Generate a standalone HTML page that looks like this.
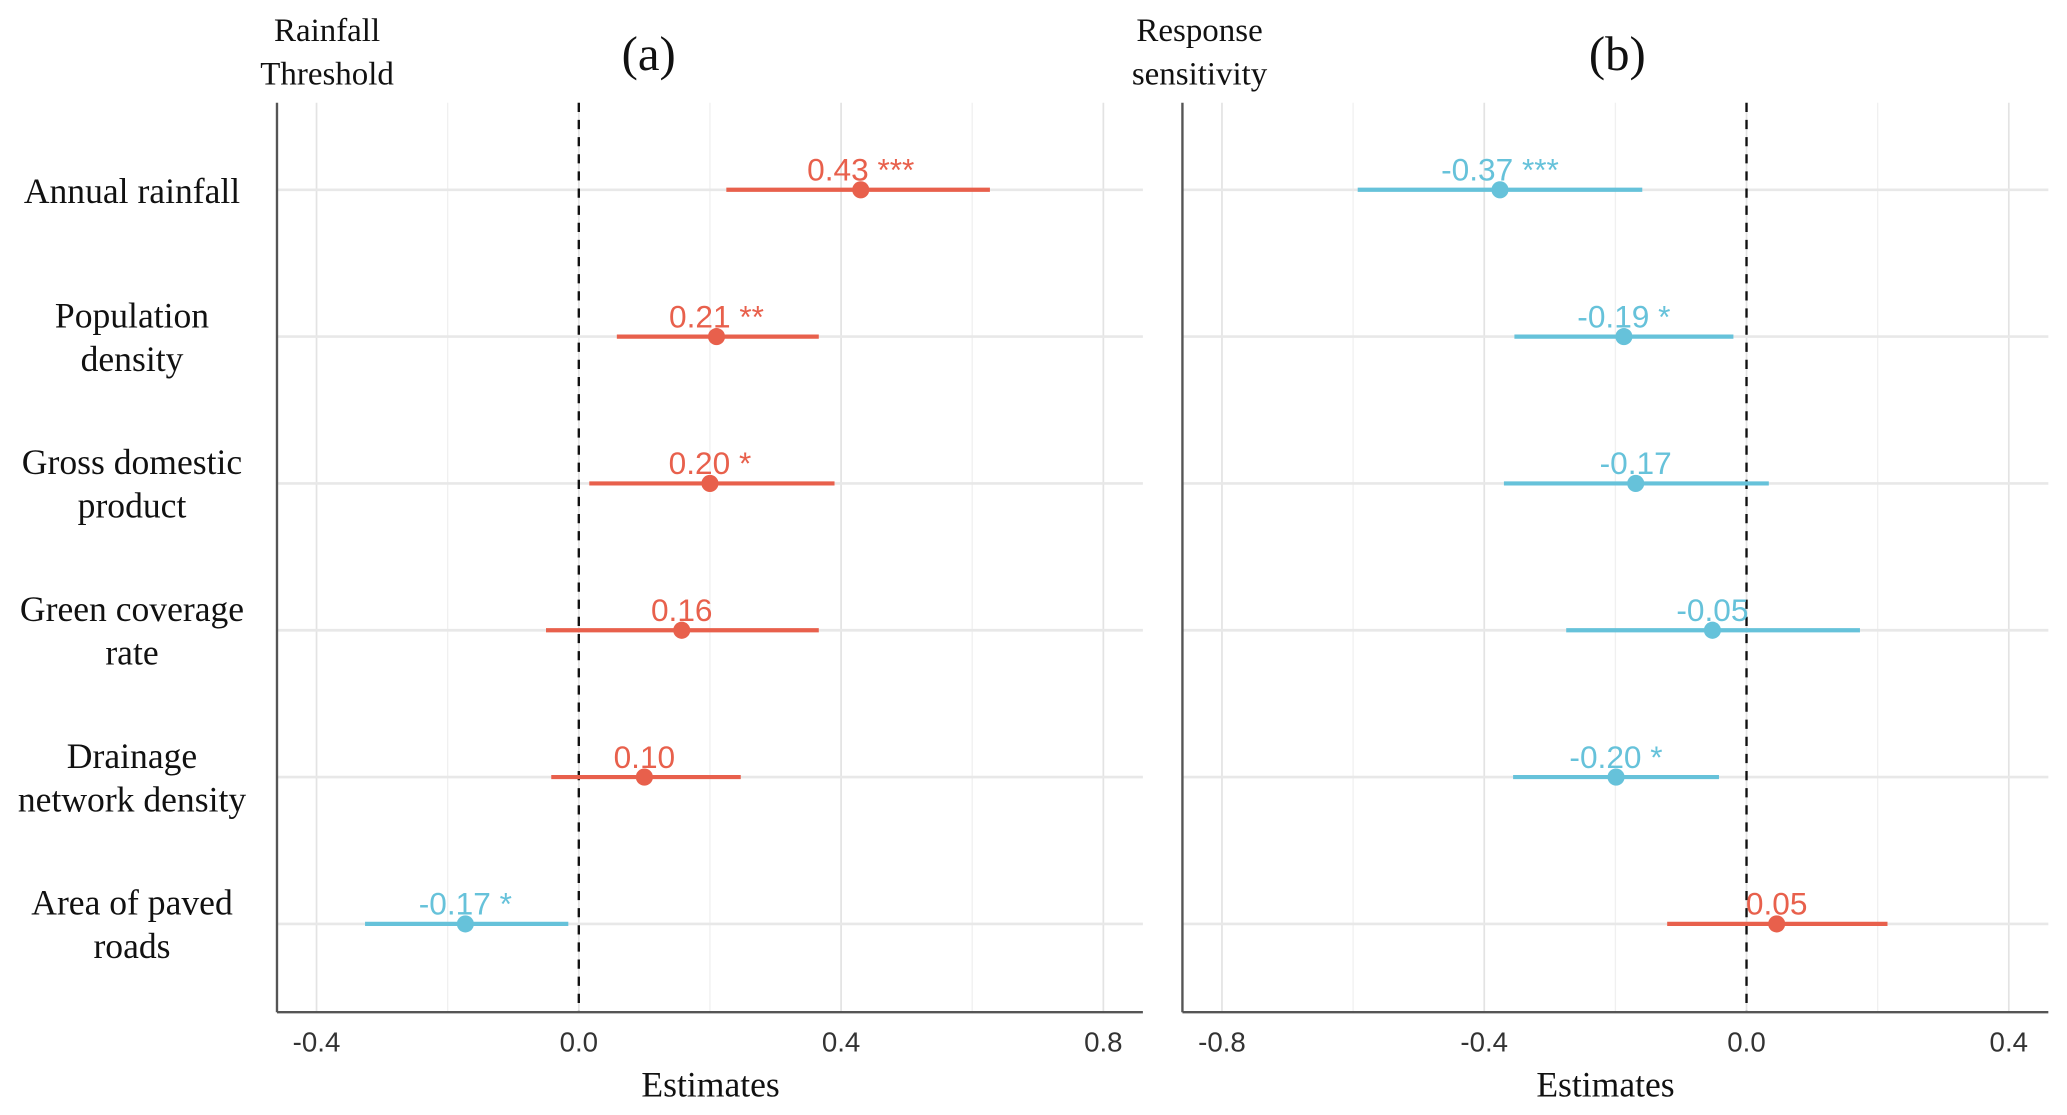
<!DOCTYPE html>
<html><head><meta charset="utf-8"><style>
html,body{margin:0;padding:0;background:#fff;}
svg{display:block;}
</style></head><body>
<svg id="chart" width="2067" height="1115" viewBox="0 0 1568 846" xmlns="http://www.w3.org/2000/svg">
<rect width="1568" height="846" fill="#fff"/>
<g id="root"></g>
</svg>
<script>
const rowLabels = [["Annual rainfall"],["Population","density"],["Gross domestic","product"],["Green coverage","rate"],["Drainage","network density"],["Area of paved","roads"]];
const estA = [0.43, 0.21, 0.20, 0.157, 0.10, -0.173];
const loA = [0.225, 0.058, 0.016, -0.05, -0.042, -0.326];
const hiA = [0.627, 0.366, 0.39, 0.366, 0.247, -0.016];
const textA = ["0.43 ***","0.21 **","0.20 *","0.16","0.10","-0.17 *"];
const estB = [-0.376, -0.187, -0.169, -0.052, -0.199, 0.046];
const loB = [-0.593, -0.354, -0.37, -0.275, -0.356, -0.121];
const hiB = [-0.159, -0.02, 0.034, 0.173, -0.042, 0.215];
const textB = ["-0.37 ***","-0.19 *","-0.17","-0.05","-0.20 *","0.05"];
const ticksA = [-0.4, 0.0, 0.4, 0.8];
const ticksB = [-0.8, -0.4, 0.0, 0.4];

const NS = "http://www.w3.org/2000/svg";
const root = document.getElementById('root');
function mk(tag, attrs, parent, txt){
  const e = document.createElementNS(NS, tag);
  for (const k in attrs) e.setAttribute(k, attrs[k]);
  if (txt !== undefined) e.textContent = txt;
  (parent||root).appendChild(e);
  return e;
}
const RED = "#e8604c", BLUE = "#66c2da";
const rowY = i => 144 + i * 111.4;

function panel(name, x0, zeroPx, ticks, est, lo, hi, txt, title, titleX, ylab, ylabX, estX){
  const sc = v => zeroPx + v * 497.5;
  const g = mk('g', {});
  
  
  const x1 = x0 + 657;
  for (let v = -1.2; v <= 1.21; v += 0.2) {
    const px = sc(v);
    if (px < x0 + 2 || px > x1) continue;
    const isMajor = Math.abs(Math.round(v * 10) % 4) === 0;
    const l = mk('line', {x1: px, x2: px, y1: 78, y2: 768, stroke: isMajor ? "#e3e3e3" : "#f0f0f0", 'stroke-width': isMajor ? 1.3 : 1}, g);
    
    
  }
  for (let i = 0; i < est.length; i++) {
    const l = mk('line', {x1: x0, x2: x1, y1: rowY(i), y2: rowY(i), stroke: "#e8e8e8", 'stroke-width': 2}, g);
    
    
  }
  const z = mk('line', {x1: sc(0), x2: sc(0), y1: 78, y2: 768, stroke: "#111", 'stroke-width': 1.8, 'stroke-dasharray': "7,6"}, g);
  
  
  const ya = mk('line', {x1: x0, x2: x0, y1: 78, y2: 768, stroke: "#555", 'stroke-width': 1.8}, g);
  
  
  const xa = mk('line', {x1: x0, x2: x1, y1: 768, y2: 768, stroke: "#555", 'stroke-width': 1.8}, g);
  
  
  ticks.forEach(t => {
    const tl = mk('text', {x: sc(t), y: 798, 'text-anchor': 'middle', 'font-family': '"Liberation Sans", sans-serif', 'font-size': 21, fill: '#333'}, g, t.toFixed(1));
    
    
  });
  for (let i = 0; i < est.length; i++) {
    const c = est[i] >= 0 ? RED : BLUE;
    const ci = mk('line', {x1: sc(lo[i]), x2: sc(hi[i]), y1: rowY(i), y2: rowY(i), stroke: c, 'stroke-width': 3.2}, g);
    
    
    const p = mk('circle', {cx: sc(est[i]), cy: rowY(i), r: 6.5, fill: c}, g);
    
    
    const lb = mk('text', {x: sc(est[i]), y: rowY(i) - 7, 'text-anchor': 'middle', 'font-family': '"Liberation Sans", sans-serif', 'font-size': 24, fill: c}, g, txt[i]);
    
    
  }
  const t = mk('text', {x: titleX, y: 53, 'text-anchor': 'middle', 'font-family': '"Liberation Serif", serif', 'font-size': 37, fill: '#111'}, g, title);
  
  
  const yt = mk('text', {x: ylabX, y: 31, 'text-anchor': 'middle', 'font-family': '"Liberation Serif", serif', 'font-size': 25, fill: '#111'}, g);
  
  
  mk('tspan', {x: ylabX, dy: 0}, yt, ylab[0]);
  mk('tspan', {x: ylabX, dy: 33}, yt, ylab[1]);
  const xt = mk('text', {x: estX, y: 832, 'text-anchor': 'middle', 'font-family': '"Liberation Serif", serif', 'font-size': 27, fill: '#111'}, g, 'Estimates');
  
  
}

rowLabels.forEach((lines, i) => {
  const tx = mk('text', {x: 100, y: 0, 'text-anchor': 'middle', 'font-family': '"Liberation Serif", serif', 'font-size': 27, fill: '#111'});
  
  
  if (lines.length === 1) {
    mk('tspan', {x: 100, y: rowY(i) + 10}, tx, lines[0]);
  } else {
    mk('tspan', {x: 100, y: rowY(i) - 7}, tx, lines[0]);
    mk('tspan', {x: 100, y: rowY(i) + 26}, tx, lines[1]);
  }
});

panel('panel-a', 210, 439, ticksA, estA, loA, hiA, textA, '(a)', 492, ['Rainfall','Threshold'], 248, 539);
panel('panel-b', 897, 1325, ticksB, estB, loB, hiB, textB, '(b)', 1227, ['Response','sensitivity'], 910, 1218);
</script>
</body></html>
